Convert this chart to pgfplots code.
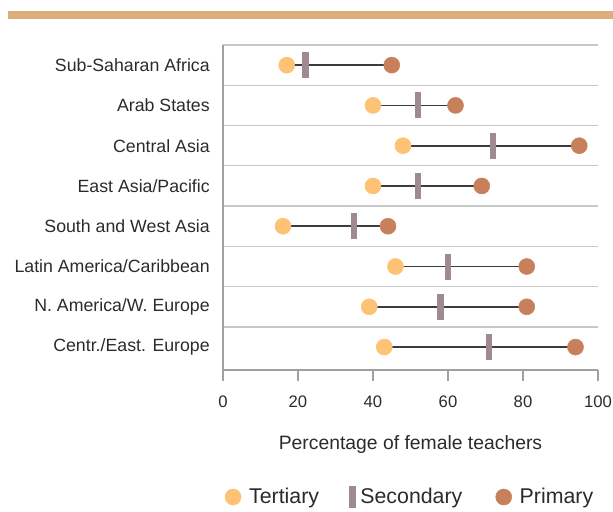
\documentclass[border=0pt]{standalone}
\usepackage{pgfplots}
\usepackage{pgfplotstable}
\pgfplotsset{compat=1.18}
\usepackage{fontspec}
\setmainfont{Liberation Sans}

\definecolor{tert}{HTML}{FDC273}
\definecolor{sec}{HTML}{9E8A90}
\definecolor{prim}{HTML}{C8805C}
\definecolor{linegray}{HTML}{3C3C3C}
\definecolor{topbar}{HTML}{DDAD7B}
\definecolor{gridgray}{HTML}{C8C8C8}
\definecolor{axisgray}{HTML}{A0A0A0}
\definecolor{txt}{HTML}{2B2B2B}

% share of female teachers by level (percent)
\pgfplotstableread{
y t s p
8 17 22 45
7 40 52 62
6 48 72 95
5 40 52 69
4 16 35 44
3 46 60 81
2 39 58 81
1 43 71 94
}\rowdata

\begin{document}
\begin{tikzpicture}
\begin{axis}[
    name=ax,
    scale only axis,
    width=281.25pt, height=243.75pt,
    xmin=0, xmax=100,
    ymin=0.43, ymax=8.5,
    clip=false,
    axis x line*=bottom,
    axis y line*=left,
    axis line style={axisgray, line width=1.1pt},
    xtick={0,20,...,100},
    tick align=outside,
    major tick length=8.25pt,
    x tick style={axisgray, line width=1.1pt},
    y tick style={draw=none},
    ytick={1,...,8},
    yticklabels={Centr./East. Europe, N. America/W. Europe, Latin America/Caribbean, South and West Asia, East Asia/Pacific, Central Asia, Arab States, Sub-Saharan Africa},
    minor ytick={1.5,2.5,...,8.5},
    yminorgrids,
    minor grid style={gridgray, line width=0.9pt},
    yticklabel style={font=\fontsize{13.3}{16}\selectfont, text=txt, inner sep=0pt, xshift=-1.5pt},
    xticklabel style={font=\fontsize{12.5}{15}\selectfont, text=txt, inner sep=0pt, yshift=-11pt},
    /pgf/number format/assume math mode=true,
    xlabel={Percentage of female teachers},
    xlabel style={at={(axis description cs:0.5,0)}, anchor=center, yshift=-55.5pt, font=\fontsize{14.5}{17}\selectfont, text=txt},
    legend columns=3,
    legend style={at={(axis description cs:0.5,0)}, anchor=center, yshift=-95.25pt, draw=none,
        font=\fontsize{16}{19}\selectfont, text=txt,
        /tikz/every odd column/.append style={column sep=4pt},
        /tikz/every even column/.append style={column sep=23pt}},
    legend image code/.code={\draw[#1, only marks] plot coordinates {(0pt,0pt)};},
]
\addplot[only marks, mark=none, forget plot,
    error bars/.cd, x dir=plus, x explicit, error mark=none,
    error bar style={linegray, line width=1.25pt, solid}]
    table[x=t, y=y, x error plus expr=\thisrow{p}-\thisrow{t}] {\rowdata};

\addplot[only marks, color=tert, mark=*, mark size=6pt]
    table[x=t, y=y] {\rowdata};
\addlegendentry{Tertiary}

\addplot[only marks, color=sec, mark=|, mark size=9.75pt, mark options={line width=4.8pt},
    legend image post style={mark size=8.25pt}]
    table[x=s, y=y] {\rowdata};
\addlegendentry{Secondary}

\addplot[only marks, color=prim, mark=*, mark size=6pt]
    table[x=p, y=y] {\rowdata};
\addlegendentry{Primary}
\end{axis}
\fill[topbar] ([xshift=-161.25pt,yshift=19.5pt]ax.north west) rectangle ([xshift=11.25pt,yshift=25.5pt]ax.north east);
\path ([xshift=-167.25pt,yshift=33.75pt]ax.north west) rectangle ([xshift=11.25pt,yshift=-105pt]ax.south east);
\end{tikzpicture}
\end{document}
